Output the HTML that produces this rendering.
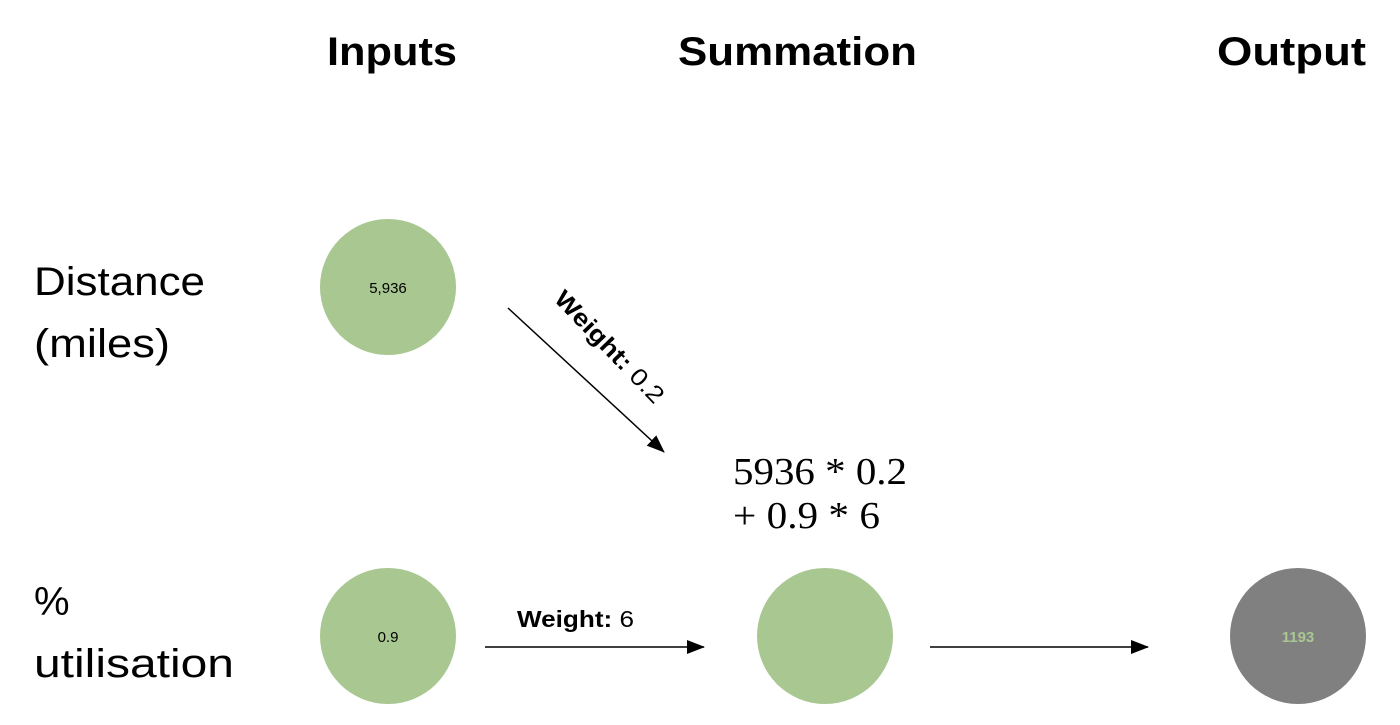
<!DOCTYPE html>
<html><head><meta charset="utf-8"><style>
html,body{margin:0;padding:0;background:#fff;}
svg{display:block;font-family:"Liberation Sans",sans-serif;}
</style></head><body>
<svg width="1400" height="725" viewBox="0 0 1400 725">
<defs>
<marker id="ah2" markerWidth="18" markerHeight="14" refX="17" refY="7" orient="auto" markerUnits="userSpaceOnUse"><path d="M0,0 L18,7 L0,14 z" fill="#000"/></marker></defs>
<g font-weight="bold" font-size="40" fill="#000" lengthAdjust="spacingAndGlyphs">
<text x="327" y="65" textLength="130" lengthAdjust="spacingAndGlyphs">Inputs</text>
<text x="678" y="65" textLength="239" lengthAdjust="spacingAndGlyphs">Summation</text>
<text x="1217" y="65" textLength="149" lengthAdjust="spacingAndGlyphs">Output</text>
</g>
<g font-size="40" fill="#000">
<text x="34" y="295" textLength="171" lengthAdjust="spacingAndGlyphs">Distance</text>
<text x="34" y="357" textLength="136" lengthAdjust="spacingAndGlyphs">(miles)</text>
<text x="34" y="615">%</text>
<text x="34" y="677" textLength="200" lengthAdjust="spacingAndGlyphs">utilisation</text>
</g>
<circle cx="388" cy="287" r="68" fill="#a9c791"/>
<text x="388" y="293" font-size="15" text-anchor="middle">5,936</text>
<circle cx="388" cy="636" r="68" fill="#a9c791"/>
<text x="388" y="642" font-size="15" text-anchor="middle">0.9</text>
<circle cx="825" cy="636" r="68" fill="#a9c791"/>
<circle cx="1298" cy="636" r="68" fill="#808080"/>
<text x="1298" y="642" font-size="15" font-weight="bold" text-anchor="middle" fill="#a9c791">1193</text>
<line x1="508" y1="308" x2="664" y2="452" stroke="#000" stroke-width="1.5" marker-end="url(#ah2)"/>
<line x1="485" y1="647" x2="704" y2="647" stroke="#000" stroke-width="1.5" marker-end="url(#ah2)"/>
<line x1="930" y1="647" x2="1148" y2="647" stroke="#000" stroke-width="1.5" marker-end="url(#ah2)"/>
<text transform="translate(553,300) rotate(46)" font-size="24" textLength="146" lengthAdjust="spacingAndGlyphs"><tspan font-weight="bold">Weight:</tspan> 0.2</text>
<text x="517" y="627" font-size="23" textLength="117" lengthAdjust="spacingAndGlyphs"><tspan font-weight="bold">Weight:</tspan> 6</text>
<g font-family="Liberation Serif,serif" font-size="38" fill="#000">
<text x="733" y="484" textLength="174" lengthAdjust="spacingAndGlyphs">5936 * 0.2</text>
<text x="733" y="528" textLength="147" lengthAdjust="spacingAndGlyphs">+ 0.9 * 6</text>
</g>
</svg>
</body></html>
